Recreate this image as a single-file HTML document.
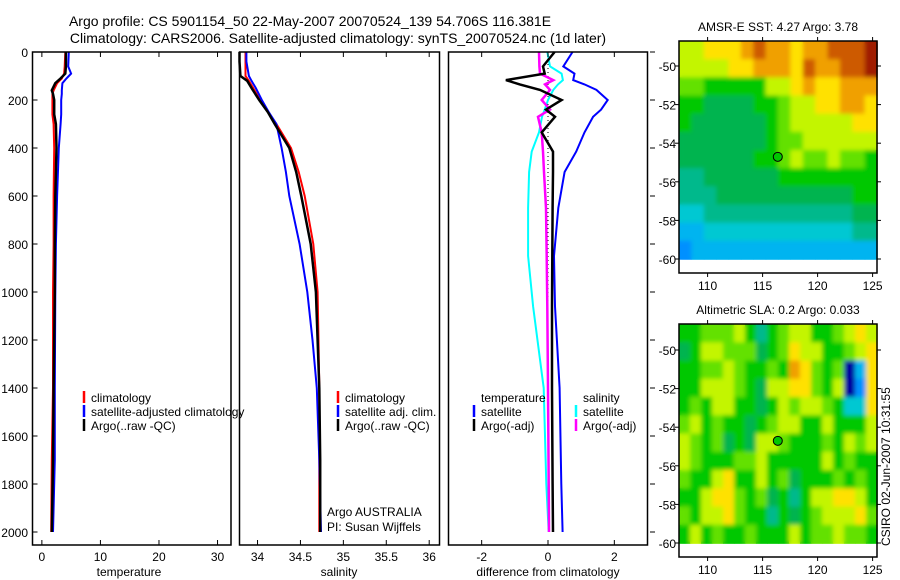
<!DOCTYPE html>
<html><head><meta charset="utf-8">
<style>
body{margin:0;background:#fff;}
svg{display:block;font-family:"Liberation Sans",sans-serif;}
text{fill:#000;}
</style></head>
<body>
<svg id="fig" width="900" height="580" viewBox="0 0 900 580" xmlns="http://www.w3.org/2000/svg">
<defs>
<filter id="smooth" x="0" y="0" width="1" height="1"><feGaussianBlur stdDeviation="2.2" edgeMode="duplicate"/></filter>
</defs>
<text x="310" y="26" font-size="14" text-anchor="middle">Argo profile: CS 5901154_50 22-May-2007 20070524_139 54.706S 116.381E</text>
<text x="338" y="43" font-size="14" text-anchor="middle">Climatology: CARS2006. Satellite-adjusted climatology: synTS_20070524.nc (1d later)</text>
<g id="plots"></g>
</svg>
<script>
// ---- profile data (depth in m) ----
const tDepth = [0, 60, 90, 110, 130, 160, 175, 200, 260, 300, 400, 600, 800, 1000, 1400, 1700, 2000];
const tArgo  = [4.1, 4.1, 4.0, 3.2, 2.3, 1.7, 1.9, 2.1, 2.1, 2.4, 2.5, 2.3, 2.2, 2.2, 2.0, 1.9, 1.7];
const tClim  = [4.0, 3.9, 3.8, 3.4, 2.6, 2.0, 1.8, 1.8, 1.8, 2.0, 2.1, 2.0, 2.0, 1.9, 1.9, 1.7, 1.6];
const tSat   = [4.6, 4.5, 5.0, 4.2, 3.5, 3.4, 3.4, 3.3, 3.3, 3.2, 2.9, 2.6, 2.4, 2.3, 2.2, 2.2, 1.9];

const sDepth = [0, 40, 100, 120, 150, 200, 250, 300, 400, 500, 600, 800, 1000, 1200, 1400, 1700, 2000];
const sArgo  = [33.79, 33.79, 33.80, 33.88, 33.93, 34.02, 34.12, 34.20, 34.37, 34.45, 34.51, 34.62, 34.68, 34.70, 34.72, 34.73, 34.73];
const sClim  = [33.86, 33.86, 33.86, 33.90, 33.95, 34.03, 34.12, 34.22, 34.39, 34.48, 34.55, 34.65, 34.70, 34.71, 34.72, 34.72, 34.72];
const sSat   = [33.87, 33.87, 33.90, 33.93, 33.98, 34.05, 34.13, 34.22, 34.28, 34.33, 34.37, 34.49, 34.58, 34.64, 34.69, 34.72, 34.74];

const dDepth   = [0, 60, 90, 117, 135, 158, 200, 240, 270, 335, 415, 500, 650, 850, 1060, 1400, 1800, 2000];
const dTempArgo= [0.20, -0.15, -0.10, -1.27, -0.85, -0.24, 0.41, -0.06, 0.21, -0.19, 0.15, 0.15, 0.14, 0.13, 0.12, 0.12, 0.14, 0.15];
const dTempSat = [0.74, 0.46, 0.80, 0.76, 1.10, 1.46, 1.80, 1.60, 1.36, 1.10, 0.85, 0.50, 0.31, 0.18, 0.21, 0.35, 0.40, 0.44];
const dSalSat  = [-0.02, 0.06, 0.41, 0.45, 0.30, 0.16, 0.00, -0.10, -0.18, -0.27, -0.49, -0.57, -0.60, -0.60, -0.45, -0.13, -0.05, 0.02];
const dSalArgo = [-0.27, -0.26, -0.24, 0.16, -0.09, 0.06, -0.19, 0.06, -0.30, -0.19, -0.15, -0.12, -0.06, -0.04, -0.02, 0.00, 0.02, 0.03];

const depthTicks = [0, 200, 400, 600, 800, 1000, 1200, 1400, 1600, 1800, 2000];
const tempTicks = [0, 10, 20, 30];
const salTicks = [34, 34.5, 35, 35.5, 36];
const salTickLabels = ["34", "34.5", "35", "35.5", "36"];
const diffTicks = [-2, 0, 2];

// ---- map data (rows north->south, code in jet-like palette) ----
const sstRows = [
"778889A99899AAAB",
"7777889998A99AAB",
"6655555778988999",
"5544445567788998",
"5444444567777788",
"4444444566777777",
"4444445567667665",
"3344444455555555",
"3334444444444455",
"2233333333333344",
"1122222222222233",
"0111111111111111"];
const slaRows = [
"556667535677556787",
"457766645687755678",
"556676556598656Z18",
"557776547788657Z08",
"565775545767765228",
"675655456775575557",
"765645477655565767",
"765556675555575655",
"655785575645556565",
"557886564535778875",
"657786553545677786",
"575655655575667665"];
const mapLatTicks = [-50, -52, -54, -56, -58, -60];
const mapLonTicks = [110, 115, 120, 125];
const argoLon = 116.381, argoLat = -54.706;

const NS = "http://www.w3.org/2000/svg";
const root = document.getElementById('plots');
function mk(tag, attrs, parent){
  const e = document.createElementNS(NS, tag);
  for (const k in attrs) e.setAttribute(k, attrs[k]);
  (parent||root).appendChild(e);
  return e;
}
function txt(x,y,s,size,anchor,parent){
  const t = mk('text',{x:x,y:y,'font-size':size,'text-anchor':anchor||'middle'},parent);
  t.textContent = s; return t;
}

const top0 = 52, bot = 545;
const yD = d => top0 + d * 0.24;

function panel(name, x0, x1, vmin, vmax){
  const g = mk('g',{});
  
  
  const xs = v => x0 + (v - vmin) / (vmax - vmin) * (x1 - x0);
  return {g, xs, x0, x1};
}
function frame(p){
  const r = mk('rect',{x:p.x0,y:top0,width:p.x1-p.x0,height:bot-top0,fill:'none',stroke:'#000','stroke-width':1.5},p.g);
  
  
}
function xTicks(p, vals, labels, axisName){
  vals.forEach((v,i)=>{
    const x = p.xs(v);
    mk('line',{x1:x,x2:x,y1:top0,y2:top0+5,stroke:'#000'},p.g);
    mk('line',{x1:x,x2:x,y1:bot,y2:bot-5,stroke:'#000'},p.g);
    const t = txt(x, bot+16, labels[i], 12, 'middle', p.g);
    
    
  });
}
function line(p, vals, depths, color, w, name, dash){
  const pts = vals.map((v,i)=>p.xs(v).toFixed(1)+','+yD(depths[i]).toFixed(1)).join(' ');
  const attrs = {points:pts,fill:'none',stroke:color,'stroke-width':w,'stroke-linejoin':'miter'};
  if (dash) attrs['stroke-dasharray'] = dash;
  const l = mk('polyline', attrs, p.g);
  
  
}
function legend(p, x, y, color, label, name){
  const g = mk('g',{},p.g);
  
  
  if (color) mk('line',{x1:x,x2:x,y1:y-11,y2:y+1,stroke:color,'stroke-width':2.5},g);
  txt(x+7, y, label, 12, 'start', g);
}

// Panel 1: temperature
const p1 = panel('temperature-panel', 32.5, 231, -1.6, 32.3);
line(p1, tClim, tDepth, '#ff0000', 2, 'climatology-temperature-line');
line(p1, tSat, tDepth, '#0000ff', 2, 'satellite-temperature-line');
line(p1, tArgo, tDepth, '#000000', 2.5, 'argo-temperature-line');
frame(p1);
xTicks(p1, tempTicks, tempTicks.map(String), 'temperature');
depthTicks.forEach(d=>{
  const y = yD(d);
  mk('line',{x1:32.5,x2:37.5,y1:y,y2:y,stroke:'#000'},p1.g);
  const t = txt(28, y+5, String(d), 12, 'end', p1.g);
  
  
});
const xl1 = txt(129, 576, 'temperature', 12, 'middle', p1.g);


legend(p1, 84, 402, '#ff0000', 'climatology', 'legend-climatology');
legend(p1, 84, 416, '#0000ff', 'satellite-adjusted climatology', 'legend-satellite-adjusted');
legend(p1, 84, 430, '#000000', 'Argo(..raw -QC)', 'legend-argo');

// Panel 2: salinity
const p2 = panel('salinity-panel', 239.5, 439.5, 33.79, 36.12);
line(p2, sClim, sDepth, '#ff0000', 2, 'climatology-salinity-line');
line(p2, sSat, sDepth, '#0000ff', 2, 'satellite-salinity-line');
line(p2, sArgo, sDepth, '#000000', 2.5, 'argo-salinity-line');
frame(p2);
xTicks(p2, salTicks, salTickLabels, 'salinity');
const xl2 = txt(339, 576, 'salinity', 12, 'middle', p2.g);


legend(p2, 338, 402, '#ff0000', 'climatology', 'legend-climatology');
legend(p2, 338, 416, '#0000ff', 'satellite adj. clim.', 'legend-satellite-adj');
legend(p2, 338, 430, '#000000', 'Argo(..raw -QC)', 'legend-argo');
const cr1 = txt(327, 516, 'Argo AUSTRALIA', 12, 'start', p2.g);


const cr2 = txt(327, 531, 'PI: Susan Wijffels', 12, 'start', p2.g);



// Panel 3: differences
const p3 = panel('difference-panel', 448.5, 647.5, -3.0, 3.0);
line(p3, [0,0], [0,2000], '#000', 1, 'zero-reference-line', '1,3');
line(p3, dSalSat, dDepth, '#00ffff', 2, 'satellite-salinity-diff-line');
line(p3, dTempSat, dDepth, '#0000ff', 2, 'satellite-temperature-diff-line');
line(p3, dSalArgo, dDepth, '#ff00ff', 2.5, 'argo-salinity-diff-line');
line(p3, dTempArgo, dDepth, '#000000', 2.5, 'argo-temperature-diff-line');
frame(p3);
xTicks(p3, diffTicks, diffTicks.map(String), 'difference');
depthTicks.forEach(d=>{
  const y = yD(d);
  mk('line',{x1:650,x2:655,y1:y,y2:y,stroke:'#000'},p3.g);
});
const xl3 = txt(548, 576, 'difference from climatology', 12, 'middle', p3.g);


legend(p3, 474, 402, null, 'temperature', 'legend-temperature-heading');
legend(p3, 474, 416, '#0000ff', 'satellite', 'legend-temp-satellite');
legend(p3, 474, 430, '#000000', 'Argo(-adj)', 'legend-temp-argo');
legend(p3, 576, 402, null, 'salinity', 'legend-salinity-heading');
legend(p3, 576, 416, '#00ffff', 'satellite', 'legend-sal-satellite');
legend(p3, 576, 430, '#ff00ff', 'Argo(-adj)', 'legend-sal-argo');

// ---- maps ----
const palette = {'Z':'#0000a0','0':'#0090ff','1':'#00b4f0','2':'#00c8d2','3':'#00b98c','4':'#00b450','5':'#00c800','6':'#64e100','7':'#c3f500','8':'#ffe100','9':'#f0a000','A':'#cd5a00','B':'#a01e00'};
function map(name, rows, fx0, fx1, fy0, fy1, latM50, latM60, title){
  const g = mk('g',{});
  
  
  const lonL = 107.4, lonR = 125.4;
  const xs = lon => fx0 + (lon - lonL) / (lonR - lonL) * (fx1 - fx0);
  const ys = lat => latM50 + (-50 - lat) / 10 * (latM60 - latM50);
  const latTop = -50 + (latM50 - fy0) / (latM60 - latM50) * 10;
  const nr = rows.length, nc = rows[0].length;
  const cw = (lonR - lonL) / nc, ch = (latTop + 60) / nr;
  [false, true].forEach(blur=>{
    const cg = mk('g', blur ? {filter:'url(#smooth)'} : {}, g);
    
    
    rows.forEach((row, j)=>{
      for (let i=0;i<nc;i++){
        const la = lonL + i*cw, lb = la + cw;
        const ta = latTop - j*ch, tb = ta - ch;
        const c = mk('rect',{x:xs(la).toFixed(1),y:ys(ta).toFixed(1),width:(xs(lb)-xs(la)+0.6).toFixed(1),height:(ys(tb)-ys(ta)+0.6).toFixed(1),fill:palette[row[i]]},cg);
        
        
      }
    });
  });
  const f = mk('rect',{x:fx0,y:fy0,width:fx1-fx0,height:fy1-fy0,fill:'none',stroke:'#000','stroke-width':1.5},g);
  
  
  mapLatTicks.forEach(la=>{
    const y = ys(la);
    mk('line',{x1:fx0-4,x2:fx0,y1:y,y2:y,stroke:'#000'},g);
    mk('line',{x1:fx1,x2:fx1+4,y1:y,y2:y,stroke:'#000'},g);
    const t = txt(fx0-3, y+5, String(la), 12, 'end', g);
    
    
  });
  mapLonTicks.forEach(lo=>{
    const x = xs(lo);
    mk('line',{x1:x,x2:x,y1:fy0-4,y2:fy0,stroke:'#000'},g);
    mk('line',{x1:x,x2:x,y1:fy1,y2:fy1+4,stroke:'#000'},g);
    const t = txt(x, fy1+17, String(lo), 12, 'middle', g);
    
    
  });
  const m = mk('circle',{cx:xs(argoLon),cy:ys(argoLat),r:4.5,fill:'#00c800',stroke:'#000','stroke-width':1},g);
  
  
  const tt = txt((fx0+fx1)/2, fy0-10, title, 12, 'middle', g);
  
  
}
map('sst-map', sstRows, 679, 877, 41, 273, 66, 259, 'AMSR-E SST: 4.27 Argo: 3.78');
map('sla-map', slaRows, 679, 877, 324, 557, 350, 543, 'Altimetric SLA: 0.2 Argo: 0.033');

const stamp = mk('text',{x:0,y:0,'font-size':12,'text-anchor':'start',transform:'translate(890,546) rotate(-90)'});
stamp.textContent = 'CSIRO 02-Jun-2007 10:31:55';


</script>
</body></html>
